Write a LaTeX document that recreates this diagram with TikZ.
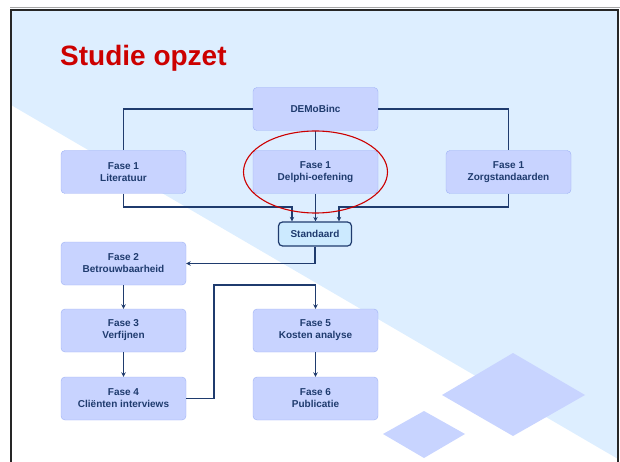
\documentclass[tikz,border=0pt]{standalone}
\usepackage{fontspec}
\setmainfont{Liberation Sans}
\usetikzlibrary{arrows.meta}
\definecolor{bgblue}{HTML}{DDEEFF}
\definecolor{boxfill}{HTML}{C8D3FF}
\definecolor{boxline}{HTML}{9FB2F5}
\definecolor{navy}{HTML}{1F3B6E}
\definecolor{stdfill}{HTML}{CCEAFF}
\definecolor{titlered}{HTML}{CC0000}
\definecolor{diafill}{HTML}{C8D4FF}
\begin{document}
\begin{tikzpicture}[x=1pt,y=-1pt,
		box/.style={draw=boxline,fill=boxfill,rounded corners=4pt,minimum width=125pt,minimum height=43pt,
			inner sep=0pt,align=center,text=navy,font=\fontsize{10}{12}\selectfont\bfseries},
		stdbox/.style={box,draw=navy,line width=1.2pt,fill=stdfill,minimum width=73pt,minimum height=24pt},
		line/.style={navy,line width=1.4pt},
		arr/.style={line,-{Stealth[length=4.5pt,width=4.5pt]}}]
	\useasboundingbox(0,0)rectangle(620,462);
	% slide background
	\fill[bgblue](11,9)--(618,9)--(618,459)--(11,105)--cycle;
	\fill[diafill](442,395)--(513,353)--(585,395)--(513,436)--cycle;
	\fill[diafill](383,434)--(424,411)--(465,434)--(424,458)--cycle;
	\draw[gray!70,line width=1.5pt](10,7.5)--(620,7.5);
	\draw[black!85,line width=2pt](11,462)--(11,10)--(618,10)--(618,462);
	\node[anchor=base west,inner sep=0pt,text=titlered,font=\fontsize{28}{32}\selectfont\bfseries](title)at(60,65.7){Studie opzet};
	% boxes
	\node[box](demo)at(315.5,109){DEMoBinc};
	\node[box](lit)at(123.5,172){Fase 1\\Literatuur};
	\node[box](del)at(315.5,172){Fase 1\\Delphi-oefening};
	\node[box](zorg)at(508.5,172){Fase 1\\Zorgstandaarden};
	\node[stdbox](std)at(315,234){Standaard};
	\node[box](f2)at(123.5,263.5){Fase 2\\Betrouwbaarheid};
	\node[box](f3)at(123.5,330.5){Fase 3\\Verfijnen};
	\node[box](f4)at(123.5,398.5){Fase 4\\Cliënten interviews};
	\node[box](f5)at(315.5,330.5){Fase 5\\Kosten analyse};
	\node[box](f6)at(315.5,398.5){Fase 6\\Publicatie};
	\coordinate(jl)at(292,207);
	\coordinate(jr)at(339,207);
	\coordinate(k1)at(214,285);
	% connectors
	\draw[line](demo.west)-|(lit.north);
	\draw[line](demo.east)-|(zorg.north);
	\draw[line](demo.south)--(del.north);
	\draw[arr](lit.south)|-(jl)--(jl|-std.north);
	\draw[arr](zorg.south)|-(jr)--(jr|-std.north);
	\draw[arr](del.south)--(del.south|-std.north);
	\draw[arr](std.south)|-(f2.east);
	\draw[arr](f2)--(f3);
	\draw[arr](f3)--(f4);
	\draw[arr](f4.east)-|(k1)-|(f5.north);
	\draw[arr](f5)--(f6);
	\draw[titlered,line width=1.1pt](del)ellipse[x radius=72,y radius=41];
\end{tikzpicture}
\end{document}
